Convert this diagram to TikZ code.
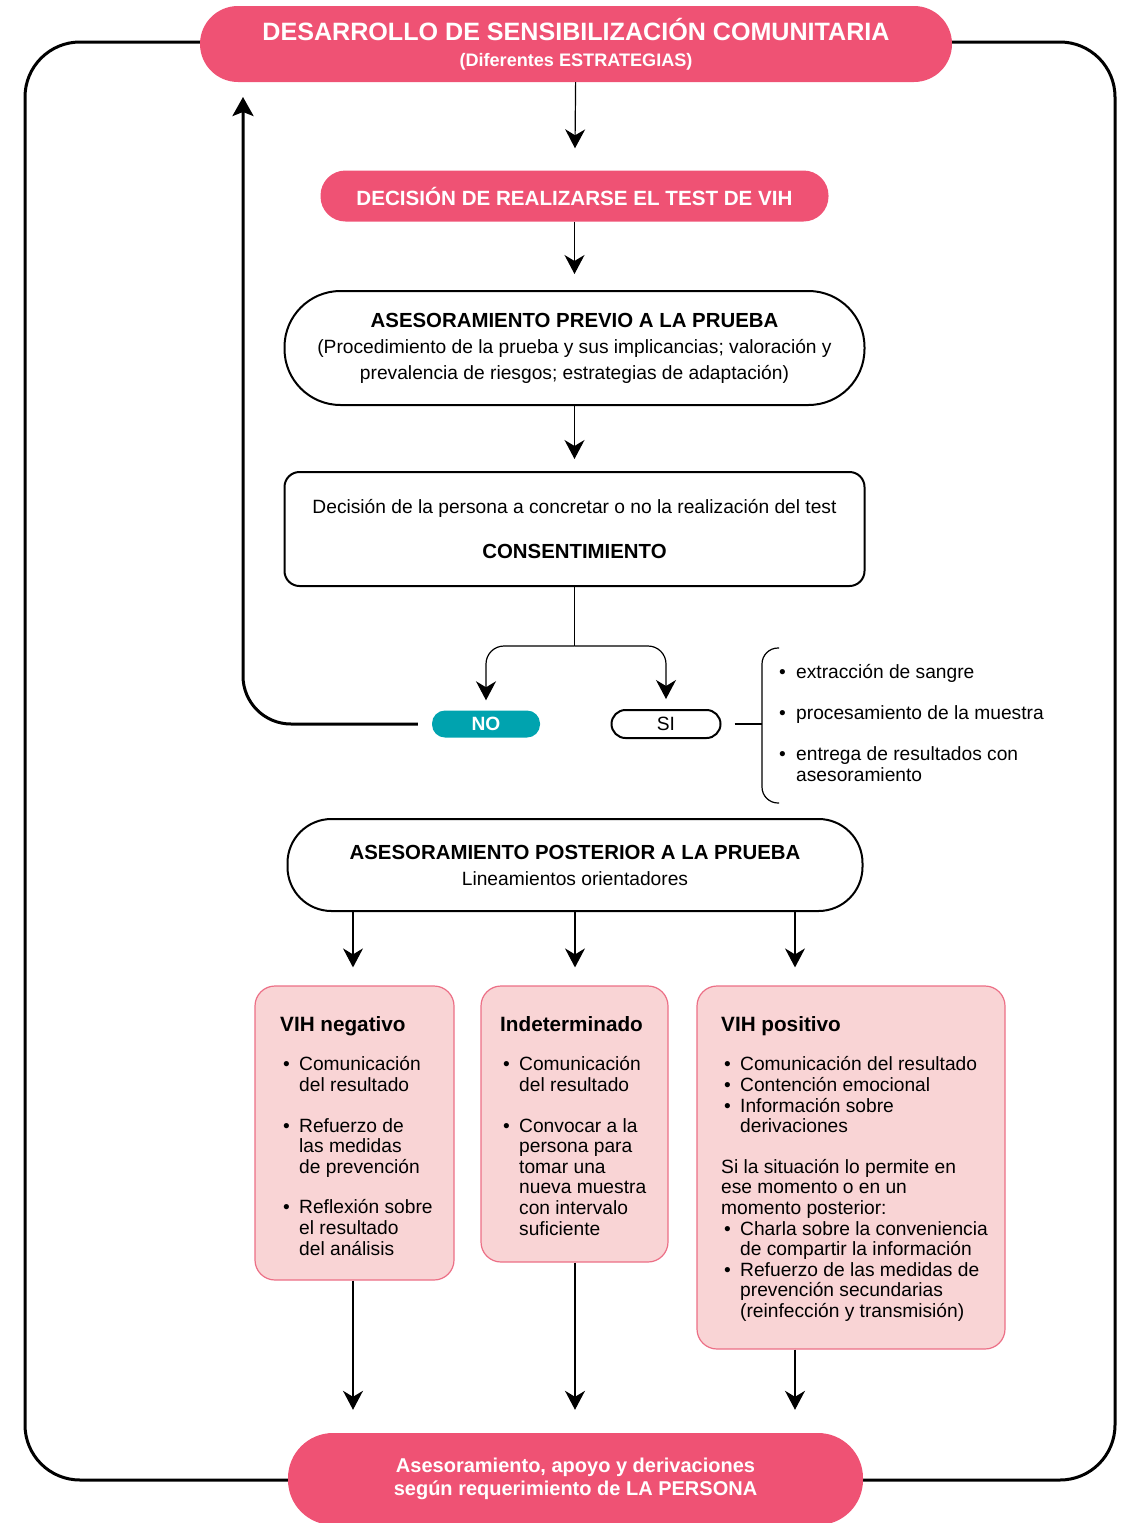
\documentclass[tikz,border=0pt]{standalone}
\usepackage{fontspec}
\setmainfont{Liberation Sans}
\usetikzlibrary{arrows.meta,positioning}
\definecolor{rosa}{HTML}{EF5274}
\definecolor{turq}{HTML}{00A3AF}
\definecolor{rosaclaro}{HTML}{F9D4D5}
\definecolor{rosaborde}{HTML}{EC6F86}
\newcommand{\txt}{\fontsize{19.2}{21}\selectfont}
\newcommand{\bl}{\makebox[19pt][l]{\hspace{3pt}\textbullet}}
\newcommand{\hg}{\hspace*{19pt}}
\newcommand{\blr}{\makebox[17pt][l]{\textbullet}}

\begin{document}
\begin{tikzpicture}[x=1pt,y=-1pt,
    arr/.style={line width=1.2pt,-{Stealth[length=19pt,width=20pt,inset=6pt]}},
    pill/.style={fill=rosa,text=white,inner sep=0pt,align=center},
    caja/.style={draw,line width=2pt,inner sep=0pt,align=center,font=\txt},
    res/.style={draw=rosaborde,fill=rosaclaro,line width=1.2pt,rounded corners=20pt,inner sep=0pt},
    lista/.style={anchor=north west,inner sep=0pt,align=left,font=\fontsize{19.2}{20.6}\selectfont}]
    \useasboundingbox (0,0) rectangle (1125,1523);

    % gran ciclo
    \draw[line width=3pt,rounded corners=55pt] (25,42) rectangle (1115,1480);

    % cajas principales
    \node[pill,rounded corners=38pt,minimum width=752pt,minimum height=76pt,
        font=\fontsize{18.1}{26}\selectfont\bfseries] (tit) at (576,44)
        {{\fontsize{25.1}{26}\selectfont DESARROLLO DE SENSIBILIZACIÓN COMUNITARIA}\\(Diferentes ESTRATEGIAS)};
    \node[pill,rounded corners=25pt,minimum width=508pt,minimum height=51pt,
        font=\fontsize{20.6}{24}\selectfont\bfseries] (dec) at (574.5,196) {DECISIÓN DE REALIZARSE EL TEST DE VIH};
    \node[caja,rounded corners=56pt,minimum width=580pt,minimum height=114pt,
        font=\fontsize{19.2}{26}\selectfont] (pre) at (574.5,348)
        {{\fontsize{20.4}{26}\selectfont\bfseries ASESORAMIENTO PREVIO A LA PRUEBA}\\
        (Procedimiento de la prueba y sus implicancias; valoración y\\
        prevalencia de riesgos; estrategias de adaptación)};
    \node[caja,rounded corners=15pt,minimum width=580pt,minimum height=114pt,
        font=\fontsize{19.2}{22}\selectfont] (con) at (574.5,529)
        {Decisión de la persona a concretar o no la realización del test\\[23pt]
        {\fontsize{20.4}{22}\selectfont\bfseries CONSENTIMIENTO}};

    % NO / SI
    \node[fill=turq,text=white,rounded corners=13pt,minimum width=108pt,minimum height=27pt,
        inner sep=0pt,font=\fontsize{19.2}{21}\selectfont\bfseries] (no) at (486,724) {NO};
    \node[caja,rounded corners=14pt,minimum width=109pt,minimum height=28pt] (si) at (666,724) {SI};
    \coordinate (fork) at ([yshift=-59pt]con.south);
    \draw[line width=1.2pt] (con.south) -- (fork);
    \draw[arr,rounded corners=18pt,shorten >=10pt] (fork) -| (no.north);
    \draw[arr,rounded corners=18pt,shorten >=10pt] (fork) -| (si.north);

    % vuelta al inicio
    \coordinate (ret) at (243,97);
    \draw[line width=3pt,rounded corners=48pt,-{Stealth[length=19pt,width=21pt,inset=4pt]}]
        ([xshift=-14pt]no.west) -| (ret);

    % llave con los pasos del test
    \coordinate (brc) at (762,724);
    \draw[line width=1.2pt] ([xshift=13pt]si.east) -- (brc);
    \draw[line width=1.2pt,rounded corners=16pt] (779,648) -- (762,648) -- (762,803) -- (779,803);
    \node[lista,font=\fontsize{19.2}{21}\selectfont] (pasos) at (779,664)
        {\blr extracción de sangre\\[20pt]
        \blr procesamiento de la muestra\\[20pt]
        \blr entrega de resultados con\\
        \hspace*{17pt}asesoramiento};

    \node[caja,rounded corners=44pt,minimum width=575pt,minimum height=92pt,
        font=\fontsize{19.2}{26}\selectfont] (post) at (575,865)
        {{\fontsize{20.4}{26}\selectfont\bfseries ASESORAMIENTO POSTERIOR A LA PRUEBA}\\
        Lineamientos orientadores};

    % resultados
    \node[res,minimum width=199pt,minimum height=294pt] (neg) at (354.5,1133) {};
    \node[res,minimum width=187pt,minimum height=276pt] (ind) at (574.5,1124) {};
    \node[res,minimum width=308pt,minimum height=363pt] (pos) at (851,1167.5) {};

    \node[lista] (negt) at (280,1016)
        {{\fontsize{20.7}{21}\selectfont\bfseries VIH negativo}\\[19pt]
        \bl Comunicación\\ \hg del resultado\\[20pt]
        \bl Refuerzo de\\ \hg las medidas\\ \hg de prevención\\[20pt]
        \bl Reflexión sobre\\ \hg el resultado\\ \hg del análisis};
    \node[lista] (indt) at (500,1016)
        {{\fontsize{20.7}{21}\selectfont\bfseries Indeterminado}\\[19pt]
        \bl Comunicación\\ \hg del resultado\\[20pt]
        \bl Convocar a la\\ \hg persona para\\ \hg tomar una\\ \hg nueva muestra\\
        \hg con intervalo\\ \hg suficiente};
    \node[lista] (posit) at (721,1016)
        {{\fontsize{20.7}{21}\selectfont\bfseries VIH positivo}\\[19pt]
        \bl Comunicación del resultado\\
        \bl Contención emocional\\
        \bl Información sobre\\ \hg derivaciones\\[20pt]
        Si la situación lo permite en\\
        ese momento o en un\\
        momento posterior:\\
        \bl Charla sobre la conveniencia\\ \hg de compartir la información\\
        \bl Refuerzo de las medidas de\\ \hg prevención secundarias\\ \hg (reinfección y transmisión)};

    \node[pill,rounded corners=45pt,minimum width=575pt,minimum height=92pt,
        font=\fontsize{20}{23}\selectfont\bfseries] (fin) at (575.5,1479)
        {Asesoramiento, apoyo y derivaciones\\según requerimiento de LA PERSONA};

    % flechas verticales
    \coordinate (c1) at (353,0);
    \coordinate (c2) at (575,0);
    \coordinate (c3) at (795,0);
    \draw[arr,shorten >=22pt] (tit) -- (dec);
    \draw[arr,shorten >=16pt] (dec) -- (pre);
    \draw[arr,shorten >=12pt] (pre) -- (con);
    \draw[arr,shorten >=18pt] (post.south -| c1) -- (neg.north -| c1);
    \draw[arr,shorten >=18pt] (post.south -| c2) -- (ind.north -| c2);
    \draw[arr,shorten >=18pt] (post.south -| c3) -- (pos.north -| c3);
    \draw[arr,shorten >=23pt] (neg.south -| c1) -- (fin.north -| c1);
    \draw[arr,shorten >=23pt] (ind.south -| c2) -- (fin.north -| c2);
    \draw[arr,shorten >=23pt] (pos.south -| c3) -- (fin.north -| c3);
\end{tikzpicture}
\end{document}
